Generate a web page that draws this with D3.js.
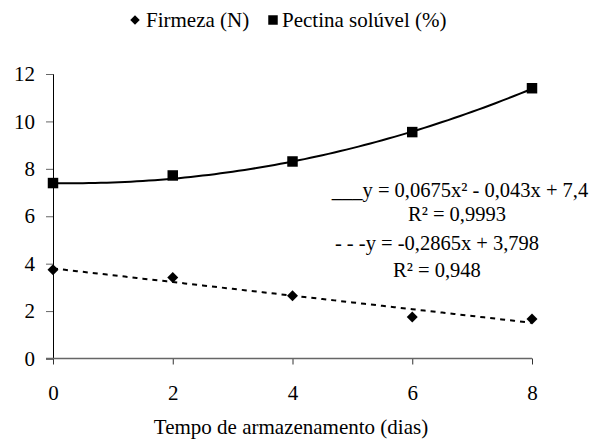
<!DOCTYPE html>
<html>
<head>
<meta charset="utf-8">
<script src="https://cdn.jsdelivr.net/npm/d3@7"></script>
<style>
  body { margin: 0; background: #fff; }
  svg text { font-family: "Liberation Serif", "Times New Roman", serif !important; fill: #000; }
</style>
</head>
<body>
<div id="chart"></div>
<script>
// data
const dias = [0, 2, 4, 6, 8];
const firmeza = [3.74, 3.42, 2.65, 1.75, 1.67];
const pectina = [7.4, 7.72, 8.31, 9.55, 11.4];
const xTicks = [0, 2, 4, 6, 8];
const yTicks = [0, 2, 4, 6, 8, 10, 12];
// trendline coefficients, as printed on the chart (c0 + c1 x + c2 x^2)
const polyCoef = [7.4, -0.043, 0.0675];
const linCoef = [3.798, -0.2865];
const eqPoly = ['___y = 0,0675x² - 0,043x + 7,4', 'R² = 0,9993'];
const eqLin = ['- - -y = -0,2865x + 3,798', 'R² = 0,948'];

const width = 595, height = 447;
const margin = { top: 74, right: 63, bottom: 88.5, left: 53 };
const serif = 'Liberation Serif';
const fs = '21px';

const svg = d3.select('#chart')
  .append('svg')
  .attr('width', width)
  .attr('height', height);

const x = d3.scaleLinear().domain([0, 8]).range([margin.left, width - margin.right]);
const y = d3.scaleLinear().domain([0, 12]).range([height - margin.bottom, margin.top]);

// y axis
const yAxis = svg.append('g')
  .attr('transform', `translate(${x(0)},0)`)
  .call(d3.axisLeft(y).tickValues(yTicks).tickSize(7).tickPadding(11).tickFormat(d3.format('d')));
yAxis.attr('font-family', serif).attr('font-size', fs);
yAxis.select('.domain').attr('stroke', '#000');
yAxis.selectAll('.tick line').attr('stroke', '#666');

// x axis
const xAxis = svg.append('g')
  .attr('transform', `translate(0,${y(0)})`)
  .call(d3.axisBottom(x).tickValues(xTicks).tickSize(6).tickPadding(21).tickSizeOuter(0));
xAxis.attr('font-family', serif).attr('font-size', fs);
xAxis.select('.domain').remove();
svg.append('line')
  .attr('x1', x(0) - 7).attr('x2', x(8))
  .attr('y1', y(0)).attr('y2', y(0))
  .attr('stroke', '#666').attr('stroke-width', 1.5);
xAxis.selectAll('.tick line').attr('stroke', '#333');

svg.append('text')
  .attr('x', 291)
  .attr('y', 434)
  .attr('text-anchor', 'middle')
  .attr('font-family', serif)
  .attr('font-size', fs)
  .text('Tempo de armazenamento (dias)');

// trendlines
const xs = d3.range(0, 8.001, 0.1);
const line = d3.line().x(d => x(d[0])).y(d => y(d[1]));

svg.append('path')
  .datum(xs.map(v => [v, polyCoef[0] + polyCoef[1] * v + polyCoef[2] * v * v]))
  .attr('d', line)
  .attr('fill', 'none')
  .attr('stroke', '#000')
  .attr('stroke-width', 2);

svg.append('path')
  .datum(xs.map(v => [v, linCoef[0] + linCoef[1] * v]))
  .attr('d', line)
  .attr('fill', 'none')
  .attr('stroke', '#000')
  .attr('stroke-width', 2)
  .attr('stroke-dasharray', '5,5');

// markers
svg.selectAll('.pectina')
  .data(dias)
  .enter()
  .append('path')
  .attr('class', 'pectina')
  .attr('transform', (d, i) => `translate(${x(d)},${y(pectina[i])})`)
  .attr('d', d3.symbol(d3.symbolSquare, 110))
  .attr('fill', '#000');

svg.selectAll('.firmeza')
  .data(dias)
  .enter()
  .append('path')
  .attr('class', 'firmeza')
  .attr('transform', (d, i) => `translate(${x(d)},${y(firmeza[i])}) rotate(45)`)
  .attr('d', d3.symbol(d3.symbolSquare, 60))
  .attr('fill', '#000');

// equations
const eq = svg.append('g')
  .attr('text-anchor', 'middle')
  .attr('font-family', serif)
  .attr('font-size', '20.5px');
eq.append('text').attr('x', 460).attr('y', 197).text(eqPoly[0]);
eq.append('text').attr('x', 457).attr('y', 221).text(eqPoly[1]);
eq.append('text').attr('x', 437).attr('y', 250).text(eqLin[0]);
eq.append('text').attr('x', 437).attr('y', 277).text(eqLin[1]);

// legend
const legend = svg.append('g').attr('font-family', serif).attr('font-size', fs);
legend.append('path')
  .attr('transform', 'translate(135,20) rotate(45)')
  .attr('d', d3.symbol(d3.symbolSquare, 45))
  .attr('fill', '#000');
legend.append('text').attr('x', 146).attr('y', 27).text('Firmeza (N)');
legend.append('path')
  .attr('transform', 'translate(273,20)')
  .attr('d', d3.symbol(d3.symbolSquare, 90))
  .attr('fill', '#000');
legend.append('text').attr('x', 282).attr('y', 27).text('Pectina solúvel (%)');
</script>
</body>
</html>
